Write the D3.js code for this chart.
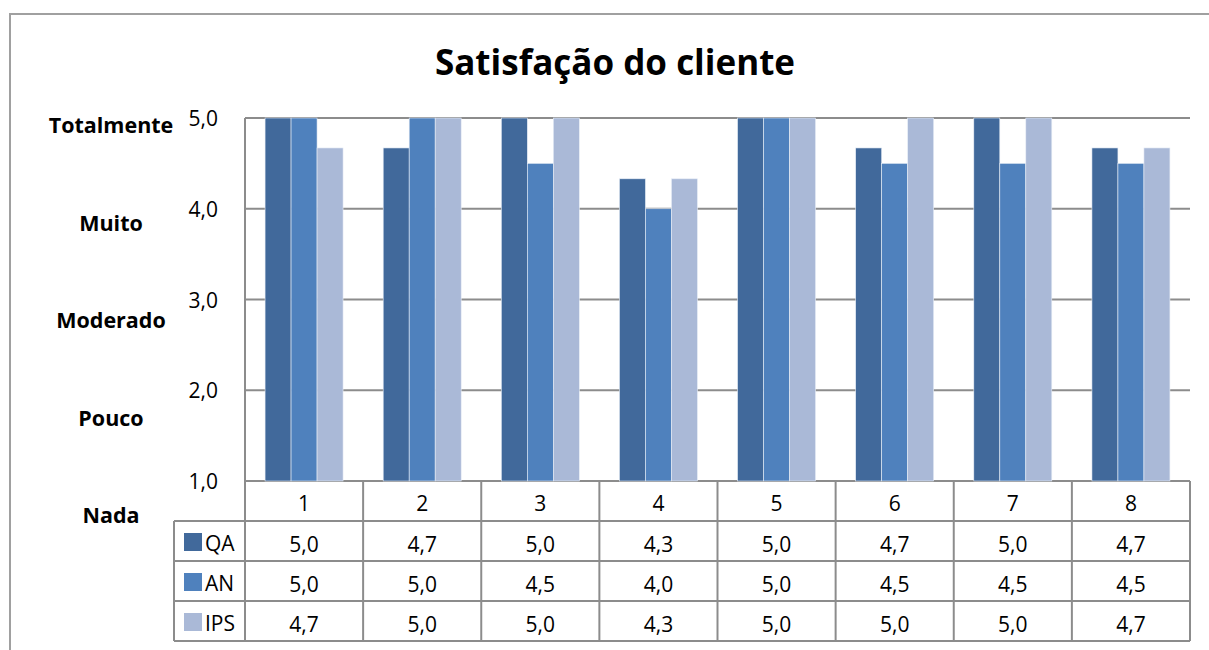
<!DOCTYPE html>
<html><head><meta charset="utf-8">
<script src="https://cdn.jsdelivr.net/npm/d3@7"></script>
<style>body{margin:0;background:#fff;} svg{display:block;font-family:"Open Sans","Liberation Sans",sans-serif;}</style>
</head><body><svg id="c" width="1209" height="650"></svg>
<script>
const categories = ["1","2","3","4","5","6","7","8"];
const seriesNames = ["QA","AN","IPS"];
const qa  = [5.0, 4.67, 5.0, 4.33, 5.0, 4.67, 5.0, 4.67];
const an  = [5.0, 5.0, 4.5, 4.0, 5.0, 4.5, 4.5, 4.5];
const ips = [4.67, 5.0, 5.0, 4.33, 5.0, 5.0, 5.0, 4.67];
const tableQA  = ["5,0","4,7","5,0","4,3","5,0","4,7","5,0","4,7"];
const tableAN  = ["5,0","5,0","4,5","4,0","5,0","4,5","4,5","4,5"];
const tableIPS = ["4,7","5,0","5,0","4,3","5,0","5,0","5,0","4,7"];
const yTicks = [1,2,3,4,5];
const levelLabels = ["Totalmente","Muito","Moderado","Pouco","Nada"];
const colors = ["#41699B","#4F81BD","#AAB9D7"];

(function(){
const series = [qa, an, ips];
const tables = [tableQA, tableAN, tableIPS];
const svg = d3.select("#c");
const pl = 245, pr = 1190, pt = 118, pb = 481;
const rowH = [40, 40, 40, 40];
const x = d3.scaleBand().domain(categories).range([pl, pr]);
const y = d3.scaleLinear().domain([1,5]).range([pb, pt]);
const barW = 26;
const xs = d3.scaleBand().domain(seriesNames).range([0, barW*3]);
const grey = "#8c8c8c";

svg.append("path").attr("d","M10,650 L10,14 L1209,14").attr("fill","none").attr("stroke","#a0a0a0").attr("stroke-width",2);

svg.append("text").attr("x",615).attr("y",75).attr("text-anchor","middle")
  .attr("font-size",35).attr("font-weight","bold").attr("fill","#000").text("Satisfação do cliente");

svg.selectAll("line.g").data(yTicks).join("line")
  .attr("x1",pl).attr("x2",pr).attr("y1",d=>y(d)).attr("y2",d=>y(d))
  .attr("stroke",grey).attr("stroke-width",2);
svg.append("line").attr("x1",pl).attr("x2",pl).attr("y1",pt).attr("y2",pb).attr("stroke",grey).attr("stroke-width",2);

svg.selectAll("text.yt").data(yTicks).join("text")
  .attr("x",218).attr("y",d=>y(d)+8).attr("text-anchor","end").attr("font-size",21).attr("fill","#000")
  .text(d=>d3.format(".1f")(d).replace(".",","));

const lvlY = d3.scalePoint().domain(levelLabels).range([125,515]);
svg.selectAll("text.lv").data(levelLabels).join("text")
  .attr("x",111).attr("y",d=>lvlY(d)+8).attr("text-anchor","middle").attr("font-size",21.5).attr("font-weight","bold").attr("fill","#000")
  .text(d=>d);

series.forEach((vals,si)=>{
  svg.append("g").selectAll("rect").data(vals).join("rect")
    .attr("x",(d,i)=>x(categories[i]) + x.bandwidth()/2 - barW*1.5 + xs(seriesNames[si]))
    .attr("y",d=>y(d)).attr("width",xs.bandwidth()).attr("height",d=>pb-y(d))
    .attr("fill",colors[si]).attr("stroke","#e8eef7").attr("stroke-width",0.6);
});

const rowsY = [pb];
rowH.forEach(h=>rowsY.push(rowsY[rowsY.length-1]+h));
const tg = svg.append("g");
const colX = categories.map(c=>x(c)).concat([pr]);
colX.forEach(cx=>tg.append("line").attr("x1",cx).attr("x2",cx).attr("y1",pb).attr("y2",rowsY[4]).attr("stroke",grey).attr("stroke-width",2));
tg.append("line").attr("x1",174).attr("x2",174).attr("y1",rowsY[1]).attr("y2",rowsY[4]).attr("stroke",grey).attr("stroke-width",2);
rowsY.forEach((ry,i)=>{ if(i===0) return;
  tg.append("line").attr("x1",174).attr("x2",pr).attr("y1",ry).attr("y2",ry).attr("stroke",grey).attr("stroke-width",2);
});
tg.selectAll("text.h").data(categories).join("text")
  .attr("x",d=>x(d)+x.bandwidth()/2).attr("y",(rowsY[0]+rowsY[1])/2+10).attr("text-anchor","middle")
  .attr("font-size",21).attr("fill","#000").text(d=>d);
tables.forEach((tv,si)=>{
  const cy = (rowsY[si+1]+rowsY[si+2])/2;
  tg.append("rect").attr("x",184).attr("y",cy-8).attr("width",18).attr("height",18).attr("fill",colors[si]);
  tg.append("text").attr("x",205).attr("y",cy+10).attr("font-size",21).attr("fill","#000").text(seriesNames[si]);
  tg.append("g").selectAll("text").data(tv).join("text")
    .attr("x",(d,i)=>x(categories[i])+x.bandwidth()/2).attr("y",cy+11).attr("text-anchor","middle")
    .attr("font-size",21).attr("fill","#000").text(d=>d);
});
})();
</script></body></html>
